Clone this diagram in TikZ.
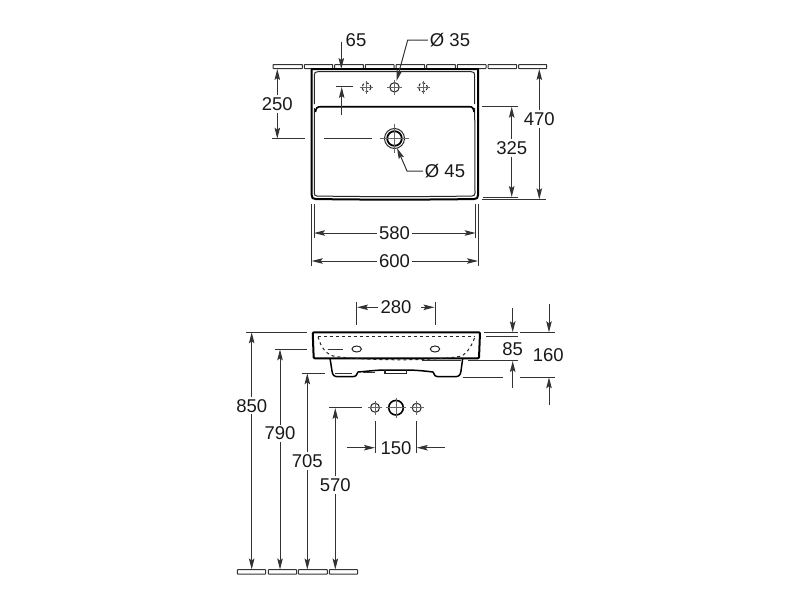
\documentclass[tikz,border=0pt]{standalone}
\usepackage{fontspec}
\setmainfont{Liberation Sans}
\usetikzlibrary{arrows.meta}

\begin{document}
\begin{tikzpicture}[x=1pt,y=-1pt,
    >={Stealth[length=11pt,width=5.5pt,inset=2pt]},
    dim/.style = {
      draw = black!80,
      line width = 1pt
    },
    outline/.style = {
      draw = black,
      line width = 2pt,
      line join = round
    },
    rim/.style = {
      draw = black!85,
      line width = 1pt
    },
    tile/.style = {
      draw = black!80,
      line width = 1pt,
      fill = white,
      rounded corners = 0.5pt
    },
    hole/.style = {
      draw = black!85,
      line width = 1pt
    },
    axis/.style = {
      draw = black!60,
      line width = 0.7pt
    },
    val/.style = {
      font = \fontsize{18.5}{20}\selectfont,
      text = black!90,
      inner sep = 2pt
    }
  ]
  \useasboundingbox (0,0) rectangle (800,600);

  % wall and floor
  \foreach \xa/\xb in {273/302.3,304.3/332.7,334.7/363.3,365.3/394,396/424.7,426.7/455.3,457.3/486,488/516.7,518.7/546.7}
    \draw[tile] (\xa,64.5) rectangle (\xb,68.5);
  \foreach \xa/\xb in {237.3/265.7,268.3/296.7,298.3/327.3,329.3/357.7}
    \draw[tile] (\xa,569.7) rectangle (\xb,574);

  % top view
  \draw[outline] (311.7,69) -- (478,69) -- (478,195) .. controls (478,198) and (477,199) .. (474,199)
    .. controls (430,199.8) and (360,199.8) .. (315.7,199) .. controls (312.7,199) and (311.7,198) .. (311.7,195) -- cycle;
  \draw[rim] (314.3,104) -- (314.3,75) .. controls (314.3,72.5) and (315.5,71.7) .. (318,71.7)
    -- (471,71.7) .. controls (473.5,71.7) and (474.7,72.5) .. (474.7,75) -- (474.7,104);
  \draw[rim] (314.3,108) -- (314.3,193) .. controls (314.3,195) and (315,196) .. (317,196)
    .. controls (360,196.8) and (430,196.8) .. (472,196) .. controls (474,196) and (475,195) .. (475,193) -- (474.7,108);
  \draw[draw=black,line width=1.6pt] (315.5,112) .. controls (316,108) and (317,106.7) .. (321,106.7)
    -- (469,106.7) .. controls (472.5,106.7) and (473.5,108) .. (474,112);

  \foreach \cx/\cy in {366.5/87.3,423/87.3} {
    \draw[hole,densely dashed] (\cx,\cy) circle (4.5);
    \draw[axis] (\cx-6.5,\cy) -- (\cx+6.5,\cy) (\cx,\cy-6.5) -- (\cx,\cy+6.5);
  }
  \draw[hole] (394.5,87.3) circle (4.7);
  \draw[axis] (387,87.3) -- (402,87.3) (394.5,80) -- (394.5,95);
  \draw[draw=black,line width=1.8pt] (394.5,138.5) circle (7.3);
  \draw[hole] (394.5,138.5) circle (10);
  \draw[axis] (380,138.5) -- (409,138.5) (394.5,124) -- (394.5,153);

  % top view dimensions
  \node[val] (d65) at (356,40) {65};
  \coordinate (d65top) at (341.3,41.5);
  \draw[dim,->] (d65top) -- (341.3,69);
  \draw[dim] (336,86.7) -- (352.7,86.7);
  \draw[dim,->] (341.7,115) -- (341.7,87);

  \node[val] (d35) at (450,40) {Ø 35};
  \draw[dim,->] (d35.west) -- (407.7,40) -- (396.5,81);
  \node[val] (d45) at (445,171) {Ø 45};
  \draw[dim,->] (d45.west) -- (407,171) -- (397,148);

  \node[val] (d250) at (277.3,104) {250};
  \draw[dim,->] (d250) -- (277.3,69);
  \draw[dim,->] (d250) -- (277.3,138.7);
  \draw[dim] (272,138.7) -- (304.5,138.7);
  \draw[dim] (324,138.7) -- (371.7,138.7);

  \node[val] (d325) at (511.7,148) {325};
  \draw[dim,->] (d325) -- (511.7,106.7);
  \draw[dim,->] (d325) -- (511.7,197);
  \draw[dim] (482,106.7) -- (517.7,106.7);
  \draw[dim] (482.7,197) -- (517.5,197);

  \node[val] (d470) at (539.3,119) {470};
  \draw[dim,->] (d470) -- (539.3,69);
  \draw[dim,->] (d470) -- (539.3,199.3);
  \draw[dim] (482,199.6) -- (545.5,199.6);

  \node[val] (d580) at (394.5,233) {580};
  \draw[dim,->] (d580) -- (314,233);
  \draw[dim,->] (d580) -- (475.7,233);
  \draw[dim] (314,204) -- (314,238) (475.7,204) -- (475.7,238);

  \node[val] (d600) at (394.5,261) {600};
  \draw[dim,->] (d600) -- (311.7,261);
  \draw[dim,->] (d600) -- (478,261);
  \draw[dim] (311.7,204) -- (311.7,266) (478,204) -- (478,266);

  % side view
  \draw[outline,rounded corners=1pt] (312.7,332.3) -- (480,332.3) -- (479,358.3) -- (313.7,358.3) -- cycle;
  \draw[rim,dashed] (318,336.7) -- (475,336.7);
  \draw[rim,dashed] (318,336.7) .. controls (321,347) and (325,353) .. (333,356)
    .. controls (355,360) and (430,362) .. (462,356) .. controls (468,352) and (472,345) .. (475,336.7);
  \draw[outline,line width=1.5pt] (330,358.3) -- (332,371) .. controls (332.5,375) and (334,376.7) .. (338,376.7)
    -- (352,376.7) .. controls (356,376.7) and (357,375) .. (358,372)
    .. controls (370,371) and (378,370) .. (385,370) -- (406.7,370) .. controls (415,370) and (425,371) .. (433,372)
    .. controls (434,375) and (435,376.7) .. (439,376.7) -- (455,376.7)
    .. controls (459,376.7) and (460.5,375) .. (461,371) -- (462.7,358.3);
  \draw[rim,line width=1.3pt] (385,370) -- (385,373.7) -- (406.7,373.7) -- (406.7,370);
  \draw[hole] (356.7,349) ellipse (4.7 and 3);
  \draw[hole] (435,349) ellipse (4.7 and 3);

  % side view dimensions
  \node[val] (d280) at (396,307.3) {280};
  \draw[dim,<-] (357,307.3) -- (378,307.3);
  \draw[dim,<-] (434.5,307.3) -- (421,307.3);
  \draw[dim] (356.7,301.7) -- (356.7,325) (435,301.7) -- (435,325);

  \node[val] (d85) at (512.7,349) {85};
  \draw[dim,->] (512.7,308.3) -- (512.7,332.3);
  \draw[dim,->] (512.7,388) -- (512.7,361);
  \draw[dim] (484,332.3) -- (518,332.3);
  \draw[dim] (486,336.9) -- (518,336.9);
  \draw[dim] (421.7,360.7) -- (461,360.7) (468,360.7) -- (518,360.7);

  \node[val] (d160) at (548.3,355) {160};
  \draw[dim,->] (549,304) -- (549,332.3);
  \draw[dim,->] (549,405) -- (549,377.3);
  \draw[dim] (520,332.3) -- (554.5,332.3);
  \draw[dim] (463,377.3) -- (503,377.3) (520,377.3) -- (555,377.3);

  \node[val] (d850) at (251.7,405.7) {850};
  \draw[dim,->] (d850) -- (251.7,332.3);
  \draw[dim,->] (d850) -- (251.7,569.5);
  \draw[dim] (246,332.3) -- (306.7,332.3);

  \node[val] (d790) at (280,433.3) {790};
  \draw[dim,->] (d790) -- (280,349.3);
  \draw[dim,->] (d790) -- (280,569.5);
  \draw[dim] (275,349.3) -- (306.7,349.3) (327.7,349.3) -- (343.3,349.3);

  \node[val] (d705) at (307.3,461) {705};
  \draw[dim,->] (d705) -- (307.3,373.3);
  \draw[dim,->] (d705) -- (307.3,569.5);
  \draw[dim] (301.7,373.3) -- (325,373.3) (335,373.3) -- (351.7,373.3) (363,372) -- (375,372);

  \node[val] (d570) at (335.3,485) {570};
  \draw[dim,->] (d570) -- (335.3,408);
  \draw[dim,->] (d570) -- (335.3,569.5);
  \draw[dim] (329.3,407.7) -- (361.7,407.7);

  % fixing holes
  \foreach \cx/\r in {375/4.5,416.7/4.5} {
    \draw[hole] (\cx,407.7) circle (\r);
    \draw[axis] (\cx-7,407.7) -- (\cx+7,407.7) (\cx,400.5) -- (\cx,415);
  }
  \draw[draw=black,line width=1.6pt] (396,407.7) circle (7.3);
  \draw[axis] (386,407.7) -- (406,407.7) (396,397.5) -- (396,418);

  \node[val] (d150) at (396,447.7) {150};
  \draw[dim,->] (346.7,447.7) -- (375,447.7);
  \draw[dim,->] (445,447.7) -- (416.7,447.7);
  \draw[dim] (375,421) -- (375,453) (416.7,421) -- (416.7,453);
\end{tikzpicture}
\end{document}
